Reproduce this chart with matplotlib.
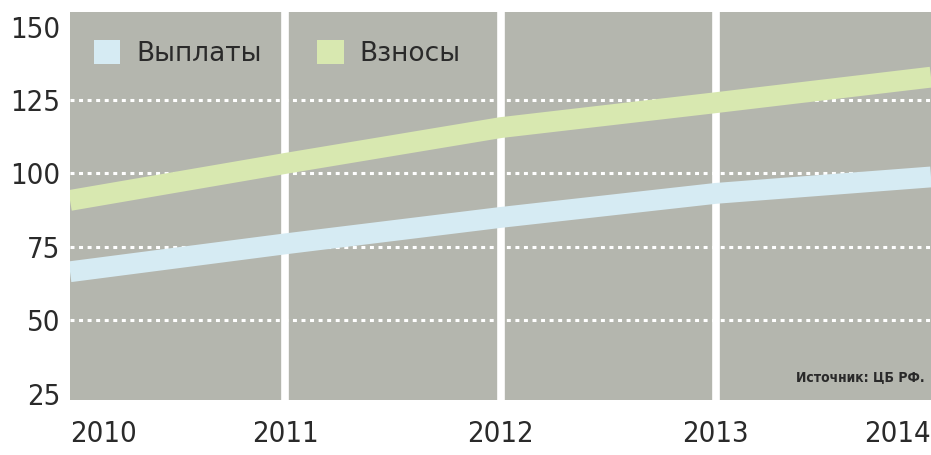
#!/usr/bin/env python3
"""
Payments vs contributions chart (2010-2014), recreated with matplotlib.
"""

import matplotlib
matplotlib.use('Agg')
import matplotlib.pyplot as plt
from matplotlib.patches import Patch

years = [2010, 2011, 2012, 2013, 2014]
payouts = [66.5, 76.0, 85.0, 93.2, 98.8]        # Выплаты
contributions = [90.8, 103.4, 115.6, 124.1, 132.8]  # Взносы
y_ticks = [25, 50, 75, 100, 125, 150]
grid_levels = [50, 75, 100, 125]
separators = [2011, 2012, 2013]
series_names = ['Выплаты', 'Взносы']
source_text = 'Источник: ЦБ РФ.'

BG = '#b4b6ae'
BLUE = '#d6ebf3'
GREEN = '#d8e8b0'
TEXT = '#2a2a2a'


def main() -> None:
	plt.rcParams['font.family'] = ['DejaVu Sans']
	plt.rcParams['font.stretch'] = 'condensed'
	fig = plt.figure(figsize=(9.31, 4.55), dpi=100)
	ax = fig.add_axes([70 / 931, 55 / 455, 861 / 931, 388 / 455])
	ax.set_facecolor(BG)
	for s in ax.spines.values():
		s.set_visible(False)

	ax.set_xlim(2010, 2014)
	ax.set_ylim(22.8, 155)

	for g in grid_levels:
		ax.axhline(g, color='white', lw=2.2, dashes=(1.3, 1.5), zorder=1)
	for x in separators:
		ax.axvline(x, color='white', lw=5.5, zorder=2)

	ax.plot(years, payouts, color=BLUE, lw=15, solid_capstyle='butt', zorder=3)
	ax.plot(years, contributions, color=GREEN, lw=15, solid_capstyle='butt', zorder=3)

	ax.set_yticks(y_ticks)
	ax.set_yticklabels([str(t) for t in y_ticks], fontsize=21, color=TEXT)
	ax.tick_params(axis='y', length=0, pad=7)
	ax.set_xticks([])

	# year labels below the plot
	for i, yr in enumerate(years):
		ha = 'left' if i == 0 else ('right' if i == len(years) - 1 else 'center')
		ax.text(yr, -0.088, str(yr), transform=ax.get_xaxis_transform(),
			ha=ha, va='center', fontsize=21, color=TEXT)

	handles = [Patch(facecolor=BLUE, edgecolor='none'), Patch(facecolor=GREEN, edgecolor='none')]
	ax.legend(handles, series_names, loc='upper left', bbox_to_anchor=(0.028, 0.928),
		ncol=2, frameon=False, handlelength=1.0, handleheight=1.0,
		handletextpad=0.6, columnspacing=2.1, borderpad=0, borderaxespad=0,
		labelcolor=TEXT, prop={'family': ['DejaVu Sans'], 'size': 19, 'stretch': 'normal'})

	ax.text(0.993, 0.06, source_text, transform=ax.transAxes, ha='right', va='center',
		fontsize=10, fontweight='bold', color=TEXT)

	fig.savefig('out.png', dpi=100, facecolor='white')


if __name__ == '__main__':
	main()
